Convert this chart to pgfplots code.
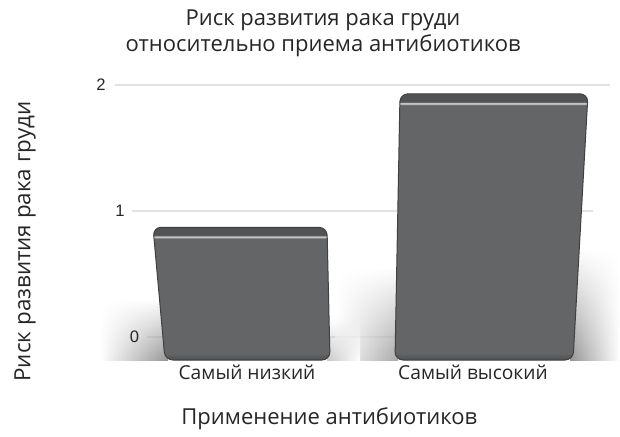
\documentclass[border=0pt]{standalone}
\usepackage{fontspec}
\setmainfont{Open Sans}
\newfontfamily\numfont{Liberation Sans}
\usepackage{pgfplots}
\pgfplotsset{compat=1.18}
\usetikzlibrary{fadings}

\definecolor{gridc}{HTML}{E2E2E2}
\definecolor{bface}{HTML}{646567}
\definecolor{bbot}{HTML}{4E4F51}
\definecolor{btop}{HTML}{515254}
\definecolor{bhl}{HTML}{C4C5C6}
\definecolor{bedge}{HTML}{3F4042}
\definecolor{txt}{HTML}{262626}

% vertical shadings: the path spans 25bp (bottom) to 75bp (top)
\pgfdeclareverticalshading{barlow}{100bp}{color(0bp)=(bbot); color(25bp)=(bbot);
  color(27.5bp)=(bface); color(70.9bp)=(bface); color(71.2bp)=(bhl);
  color(71.6bp)=(bhl); color(72bp)=(btop); color(75bp)=(btop); color(100bp)=(btop)}
\pgfdeclareverticalshading{barhigh}{100bp}{color(0bp)=(bbot); color(25bp)=(bbot);
  color(26.3bp)=(bface); color(72.9bp)=(bface); color(73.1bp)=(bhl);
  color(73.3bp)=(bhl); color(73.5bp)=(btop); color(75bp)=(btop); color(100bp)=(btop)}

\begin{document}
\begin{tikzpicture}
\begin{axis}[
    scale only axis,
    width=310pt, height=218.5pt,
    xmin=0, xmax=620,
    ymin=-0.794, ymax=2.675,
    axis line style={draw=none},
    tick style={draw=none},
    axis on top,
    clip=false,
    xtick={247,473},
    xticklabels={Самый низкий, Самый высокий},
    ytick={0,1,2},
    major tick length=0pt,
    /pgf/number format/assume math mode=true,
    xticklabel style={anchor=base, yshift=28.5pt, text=txt,
        font=\fontsize{9.6}{11}\selectfont},
    yticklabel style={anchor=west, inner sep=0pt, xshift=48pt, text=txt,
        font=\numfont\fontsize{8.3}{9}\selectfont},
    yticklabel={\ifcase\ticknum\hspace{16.75pt}\or\hspace{9.5pt}\or\fi\pgfmathprintnumber{\tick}},
    title={Риск развития рака груди\\относительно приема антибиотиков},
    title style={at={(rel axis cs:0.521,0.951)}, anchor=north, align=center,
        inner sep=0pt, text=txt, font=\fontsize{11}{13.2}\selectfont},
    xlabel={Применение антибиотиков},
    xlabel style={at={(rel axis cs:0.531,0.0275)}, anchor=base, text=txt,
        font=\fontsize{11}{13}\selectfont},
    ylabel={Риск развития рака груди},
    ylabel style={at={(rel axis cs:0.0403,0.447)}, anchor=center, text=txt,
        font=\fontsize{11.2}{13}\selectfont},
]
% gridlines (drawn in perspective as in the original)
\draw[gridc, line width=0.6pt] (axis cs:115,2) -- (axis cs:610,2);
\draw[gridc, line width=0.6pt] (axis cs:132,1) -- (axis cs:593,1);
\draw[gridc, line width=0.6pt] (axis cs:147,0) -- (axis cs:575,0);

% soft shadows at the feet of the bars
\shade[left color=white, right color=black!42, path fading=north]
    (axis cs:100,-0.183) rectangle (axis cs:168,0.3);
\shade[left color=white, right color=black!34, path fading=north]
    (axis cs:335,-0.183) rectangle (axis cs:398,0.55);
\shade[left color=black!42, right color=white, path fading=north]
    (axis cs:570,-0.183) rectangle (axis cs:620,0.7);
\shade[left color=black!22, right color=white, path fading=north]
    (axis cs:327,-0.183) rectangle (axis cs:360,0.15);

% bars: relative risk, lowest and highest antibiotic use
\addplot[shading=barlow, draw=bedge, line width=0.5pt, rounded corners=4pt]
    coordinates {(165,-0.183) (153,0.87) (327,0.87) (330,-0.183)} -- cycle;
\addplot[shading=barhigh, draw=bedge, line width=0.5pt, rounded corners=4pt]
    coordinates {(395,-0.183) (400,1.93) (588,1.93) (573,-0.183)} -- cycle;
\end{axis}
\pgfresetboundingbox
\useasboundingbox (current axis.south west) rectangle (current axis.north east);
\end{tikzpicture}
\end{document}
